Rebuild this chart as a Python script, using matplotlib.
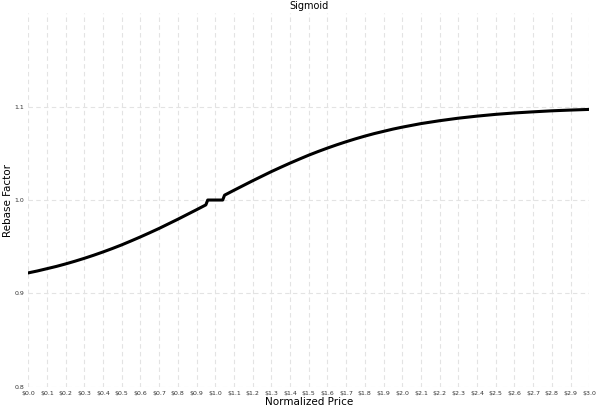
import matplotlib

matplotlib.use("Agg")
import matplotlib.pyplot as plt

# values (flat step around the $1.0 target)
price = [0.0, 0.05, 0.1, 0.15, 0.2, 0.25, 0.3, 0.35, 0.4, 0.45, 0.5, 0.55, 0.6, 0.65, 0.7, 0.75,
         0.8, 0.85, 0.9, 0.95, 0.96, 1.04, 1.05, 1.1, 1.15, 1.2, 1.25, 1.3, 1.35, 1.4, 1.45, 1.5,
         1.55, 1.6, 1.65, 1.7, 1.75, 1.8, 1.85, 1.9, 1.95, 2.0, 2.1, 2.2, 2.3, 2.4, 2.5, 2.6,
         2.7, 2.8, 2.9, 3.0]
rebase = [0.9220, 0.9241, 0.9265, 0.9289, 0.9316, 0.9345, 0.9376, 0.9409, 0.9444, 0.9481, 0.9520,
          0.9562, 0.9605, 0.9650, 0.9696, 0.9745, 0.9794, 0.9845, 0.9896, 0.9948, 1.0000, 1.0000,
          1.0052, 1.0104, 1.0155, 1.0206, 1.0255, 1.0304, 1.0350, 1.0395, 1.0438, 1.0480, 1.0519,
          1.0556, 1.0591, 1.0624, 1.0655, 1.0684, 1.0711, 1.0735, 1.0759, 1.0780, 1.0818, 1.0849,
          1.0876, 1.0898, 1.0917, 1.0932, 1.0944, 1.0955, 1.0963, 1.0970]
xticks = [round(i * 0.1, 1) for i in range(31)]
xlabels = [f"\\${t:.1f}" for t in xticks]
yticks = [0.8, 0.9, 1.0, 1.1]

fig = plt.figure(figsize=(6.0, 4.12), dpi=100)
ax = fig.add_axes([0.047, 0.061, 0.935, 0.907])
ax.plot(price, rebase, color="black", lw=2.2, solid_joinstyle="round")

ax.set_xlim(0, 3.0)
ax.set_ylim(0.8, 1.2)
ax.set_xticks(xticks)
ax.set_xticklabels(xlabels, fontsize=4.5, color="#333333")
ax.set_yticks(yticks)
ax.set_yticklabels([f"{t:.1f}" for t in yticks], fontsize=4.5, color="#333333")
ax.tick_params(length=0, pad=3)
for s in ax.spines.values():
    s.set_visible(False)
ax.grid(True, ls=(0, (4, 3)), color="#e3e3e3", lw=0.8)
ax.set_axisbelow(True)

ax.set_title("Sigmoid", fontsize=7, pad=3)
ax.set_xlabel("Normalized Price", fontsize=7.5, labelpad=1)
ax.set_ylabel("Rebase Factor", fontsize=7.5, labelpad=0.5)

fig.savefig("out.png", dpi=100)
